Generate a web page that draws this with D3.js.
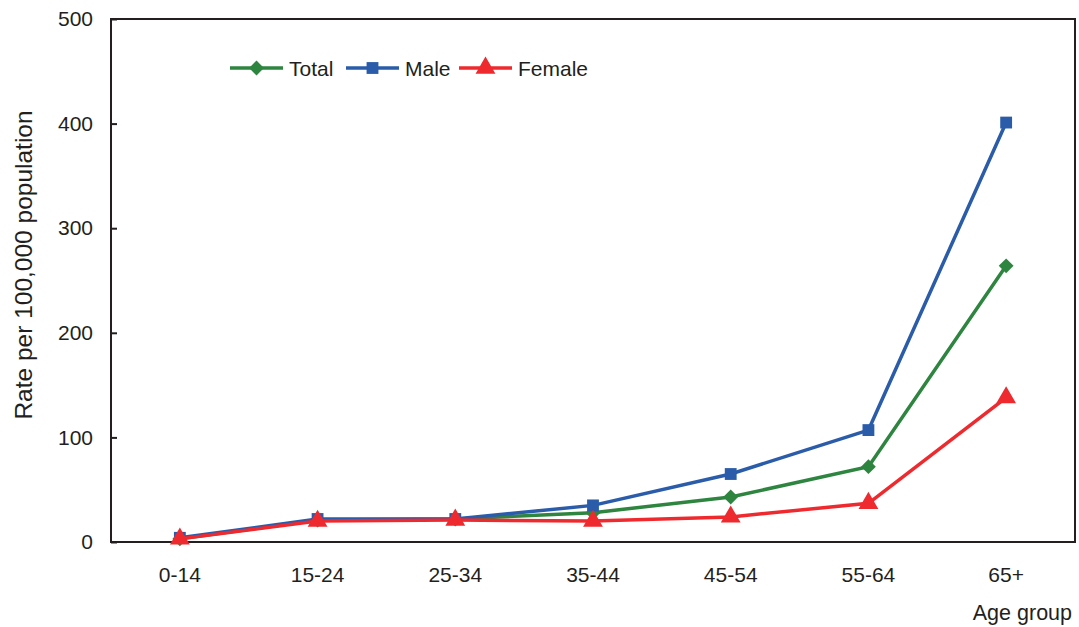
<!DOCTYPE html>
<html><head><meta charset="utf-8">
<script src="https://cdn.jsdelivr.net/npm/d3@7"></script>
<style>body{margin:0;background:#fff;}svg{display:block;font-family:"Liberation Sans",Arial,sans-serif;}</style>
</head><body>
<svg id="c" width="1079" height="627"></svg>
<script>
const categories = ["0-14","15-24","25-34","35-44","45-54","55-64","65+"];
const totalValues = [3, 21, 22, 28, 43, 72, 264];
const maleValues = [4, 22, 22, 35, 65, 107, 401];
const femaleValues = [3, 20, 21, 20, 24, 37, 138];
const yTicks = [0, 100, 200, 300, 400, 500];
const seriesNames = ["Total", "Male", "Female"];

const svg = d3.select("#c");
const m = {l:111, t:19, r:1075, b:542};
const x = d3.scaleBand().domain(categories).range([m.l, m.r]);
const y = d3.scaleLinear().domain([0, 500]).range([m.b, m.t]);
const colors = {Total:"#2e8540", Male:"#2a5caa", Female:"#ee2a2f"};
const diamond = { draw(ctx, size){ const r = Math.sqrt(size/2); ctx.moveTo(0,-r); ctx.lineTo(r,0); ctx.lineTo(0,r); ctx.lineTo(-r,0); ctx.closePath(); } };
const symbols = {Total:diamond, Male:d3.symbolSquare, Female:d3.symbolTriangle};
const symSize = {Total:110, Male:140, Female:170};
const data = {Total: totalValues, Male: maleValues, Female: femaleValues};
const ink = "#231f20";

svg.append("rect").attr("x", m.l).attr("y", m.t).attr("width", m.r-m.l).attr("height", m.b-m.t)
  .attr("fill","none").attr("stroke",ink).attr("stroke-width",2);

const ya = svg.append("g").attr("transform",`translate(${m.l},0)`)
  .call(d3.axisLeft(y).tickValues(yTicks).tickSize(-6).tickPadding(18).tickFormat(d3.format("d")));
ya.select(".domain").remove();
ya.selectAll("line").attr("stroke",ink).attr("stroke-width",2);
ya.selectAll("text").attr("font-size",21).attr("fill",ink).attr("font-family","Liberation Sans, Arial, sans-serif");

const xa = svg.append("g").attr("transform",`translate(0,${m.b})`)
  .call(d3.axisBottom(x).tickSize(0).tickPadding(25));
xa.select(".domain").remove();
xa.selectAll("text").attr("font-size",21).attr("fill",ink).attr("font-family","Liberation Sans, Arial, sans-serif");

svg.append("text").attr("transform","translate(32,265) rotate(-90)").attr("text-anchor","middle")
  .attr("font-size",24.5).attr("fill",ink).text("Rate per 100,000 population");
svg.append("text").attr("x",1072).attr("y",620).attr("text-anchor","end")
  .attr("font-size",21.5).attr("fill",ink).text("Age group");

const cx = d => x(d) + x.bandwidth()/2;
const line = d3.line().x((d,i)=>cx(categories[i])).y(d=>y(d));

seriesNames.forEach(name => {
  const g = svg.append("g");
  g.append("path").datum(data[name]).attr("d", line).attr("fill","none")
    .attr("stroke", colors[name]).attr("stroke-width",3.5).attr("stroke-linejoin","miter");
  g.selectAll("path.sym").data(data[name]).join("path").attr("class","sym")
    .attr("transform",(d,i)=>`translate(${cx(categories[i])},${y(d)})`)
    .attr("d", d3.symbol().type(symbols[name]).size(symSize[name]))
    .attr("fill", colors[name]);
});

const legX = [230, 346, 459];
seriesNames.forEach((name,i) => {
  const g = svg.append("g").attr("transform",`translate(${legX[i]},68)`);
  g.append("line").attr("x1",0).attr("x2",53).attr("y1",0).attr("y2",0)
    .attr("stroke",colors[name]).attr("stroke-width",3.5);
  g.append("path").attr("transform","translate(26.5,0)")
    .attr("d", d3.symbol().type(symbols[name]).size(symSize[name])).attr("fill",colors[name]);
  g.append("text").attr("x",59).attr("y",7.5).attr("font-size",21).attr("fill",ink).text(name);
});
</script>
</body></html>
